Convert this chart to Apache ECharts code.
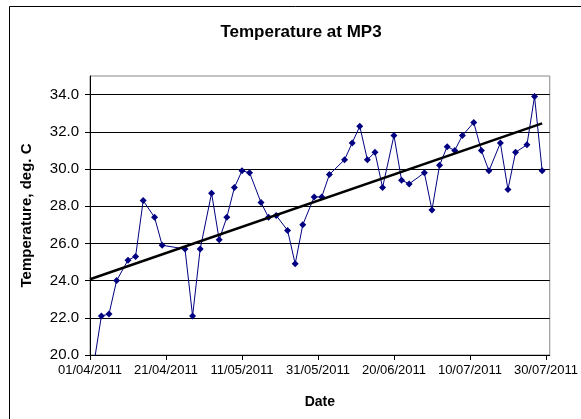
<!DOCTYPE html>
<html>
<head>
<meta charset="utf-8">
<script src="https://cdn.jsdelivr.net/npm/echarts@6/dist/echarts.min.js"></script>
<style>
  html, body { margin: 0; padding: 0; background: #fff; }
  #chart { width: 581px; height: 419px; }
</style>
</head>
<body>
<div id="chart"></div>
<script>
var dates = [
  '01/04/2011', '04/04/2011', '06/04/2011', '08/04/2011', '11/04/2011', '13/04/2011',
  '15/04/2011', '18/04/2011', '20/04/2011', '26/04/2011', '28/04/2011', '30/04/2011',
  '03/05/2011', '05/05/2011', '07/05/2011', '09/05/2011', '11/05/2011', '13/05/2011',
  '16/05/2011', '18/05/2011', '20/05/2011', '23/05/2011', '25/05/2011', '27/05/2011',
  '30/05/2011', '01/06/2011', '03/06/2011', '07/06/2011', '09/06/2011', '11/06/2011',
  '13/06/2011', '15/06/2011', '17/06/2011', '20/06/2011', '22/06/2011', '24/06/2011',
  '28/06/2011', '30/06/2011', '02/07/2011', '04/07/2011', '06/07/2011', '08/07/2011',
  '11/07/2011', '13/07/2011', '15/07/2011', '18/07/2011', '20/07/2011', '22/07/2011',
  '25/07/2011', '27/07/2011', '29/07/2011'
]
var temps = [
  18.2, 22.1, 22.2, 24.0, 25.1, 25.3,
  28.3, 27.4, 25.9, 25.7, 22.1, 25.7,
  28.7, 26.2, 27.4, 29.0, 29.9, 29.8,
  28.2, 27.4, 27.5, 26.7, 24.9, 27.0,
  28.5, 28.5, 29.7, 30.5, 31.4, 32.3,
  30.5, 30.9, 29.0, 31.8, 29.4, 29.2,
  29.8, 27.8, 30.2, 31.2, 31.0, 31.8,
  32.5, 31.0, 29.9, 31.4, 28.9, 30.9,
  31.3, 33.9, 29.9
]
// linear trend line end points as drawn
var trendDates = ['01/04/2011', '29/07/2011']
var trendTemps = [24.07, 32.45]

var xTicks = [0, 20, 40, 60, 80, 100, 120] // days after 01/04/2011

var startMs = Date.UTC(2011, 3, 1)
var DAY = 86400000

function toDay(s) {
  var p = s.split('/')
  return (Date.UTC(+p[2], +p[1] - 1, +p[0]) - startMs) / DAY
}
function fmtDay(v) {
  var d = new Date(startMs + Math.round(v) * DAY)
  var dd = ('0' + d.getUTCDate()).slice(-2)
  var mm = ('0' + (d.getUTCMonth() + 1)).slice(-2)
  return dd + '/' + mm + '/' + d.getUTCFullYear()
}

var points = dates.map(function(s, i) { return [toDay(s), temps[i]] })
var trend = trendDates.map(function(s, i) { return [toDay(s), trendTemps[i]] })

var font = 'Liberation Sans, Arial, sans-serif'
var chart = echarts.init(document.getElementById('chart'))
chart.setOption({
  animation: false,
  backgroundColor: '#fff',
  title: {
    text: 'Temperature at MP3',
    left: 296,
    top: 19,
    textAlign: 'center',
    textStyle: { fontFamily: font, fontSize: 17, fontWeight: 'bold', color: '#000' }
  },
  graphic: [{
    type: 'rect',
    left: 7,
    top: 4,
    shape: { width: 620, height: 460 },
    style: { fill: null, stroke: '#000', lineWidth: 1 },
    silent: true
  }],
  grid: {
    left: 90,
    right: 30,
    top: 76,
    bottom: 64,
    show: true,
    borderColor: '#888',
    borderWidth: 1
  },
  xAxis: {
    type: 'value',
    min: 0,
    max: 121,
    name: 'Date',
    nameLocation: 'middle',
    nameGap: 40,
    nameTextStyle: { fontFamily: font, fontSize: 14, fontWeight: 'bold', color: '#000' },
    axisLine: { lineStyle: { color: '#000' } },
    axisTick: { show: true, length: 5, customValues: xTicks, lineStyle: { color: '#000' } },
    axisLabel: {
      customValues: xTicks,
      margin: 9,
      fontFamily: font,
      fontSize: 13,
      color: '#000',
      formatter: fmtDay
    },
    splitLine: { show: false }
  },
  yAxis: {
    type: 'value',
    min: 20,
    max: 35,
    interval: 2,
    name: 'Temperature, deg. C',
    nameLocation: 'middle',
    nameGap: 56,
    nameTextStyle: { fontFamily: font, fontSize: 15, fontWeight: 'bold', color: '#000' },
    axisLine: { show: true, lineStyle: { color: '#000' } },
    axisTick: { show: true, length: 5, lineStyle: { color: '#000' } },
    axisLabel: {
      showMaxLabel: false,
      margin: 11,
      fontFamily: font,
      fontSize: 15,
      color: '#000',
      formatter: function(v) { return v.toFixed(1) }
    },
    splitLine: { show: true, showMaxLine: false, lineStyle: { color: '#000', width: 1 } }
  },
  series: [
    {
      name: 'Temperature',
      type: 'line',
      data: points,
      symbol: 'diamond',
      symbolSize: 7,
      clip: true,
      itemStyle: { color: '#000080' },
      lineStyle: { color: '#000080', width: 1 },
      z: 3
    },
    {
      name: 'Trend',
      type: 'line',
      data: trend,
      symbol: 'none',
      lineStyle: { color: '#000', width: 2.5 },
      z: 4
    }
  ]
})
</script>
</body>
</html>
